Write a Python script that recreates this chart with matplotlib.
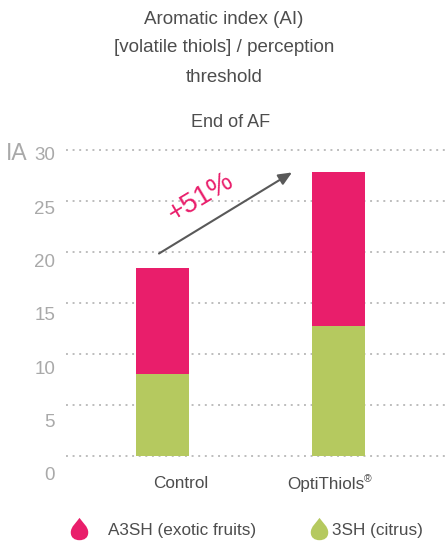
import matplotlib
matplotlib.use("Agg")
import matplotlib.pyplot as plt
from matplotlib.path import Path

plt.rcParams["font.family"] = ["Liberation Sans", "DejaVu Sans"]

categories = ["Control", "OptiThiols"]
citrus = [8.05, 12.75]
exotic = [10.35, 15.05]
yticks = [0, 5, 10, 15, 20, 25, 30]
title_lines = ["Aromatic index (AI)", "[volatile thiols] / perception", "threshold"]

PINK = "#e91e6b"
GREEN = "#b5c95f"
GREY = "#a9a9a9"
DARK = "#4d4d4d"

W, H = 447, 542
fig = plt.figure(figsize=(W / 100, H / 100), dpi=100)

# axes box in pixels: y=30 at 150, y=0 at 456
ax = fig.add_axes([66 / W, 1 - 456 / H, (W - 66) / W, 306 / H])
ax.set_xlim(66, W)
ax.set_ylim(0, 30)
ax.axis("off")

for v in yticks:
    ax.axhline(v, color="#bdbdbd", lw=1.4, ls=(0, (1, 2.4)), zorder=1, clip_on=False)

xpos = [162.5, 338.5]
ax.bar(xpos, citrus, width=53, color=GREEN, zorder=2)
ax.bar(xpos, exotic, width=53, bottom=citrus, color=PINK, zorder=2)


def px(x, y):
    return x / W, 1 - y / H


# tick labels drift below the grid, the source image spaces them wider
for v in yticks:
    fig.text(*px(55, 476 - v * 10.67), str(v), ha="right", va="center", fontsize=13.5, color=GREY)
fig.text(*px(28, 154), "IA", ha="right", va="center", fontsize=16.5, color=GREY)

for y, line in zip([19, 48, 77], title_lines):
    fig.text(*px(224, y), line, ha="center", va="center", fontsize=13.5, color=DARK)
fig.text(*px(231, 122), "End of AF", ha="center", va="center", fontsize=13, color=DARK)

fig.text(*px(181, 484), categories[0], ha="center", va="center", fontsize=12.3, color=DARK)
fig.text(*px(326, 484), categories[1], ha="center", va="center", fontsize=12.3, color=DARK)
fig.text(*px(364, 479), "®", ha="left", va="center", fontsize=7.5, color=DARK)

ax.annotate("", xy=(292, 27.8), xytext=(159, 19.85),
            arrowprops=dict(arrowstyle="-|>,head_length=0.8,head_width=0.35", color="#595959", lw=1.5,
                            shrinkA=0, shrinkB=0), zorder=3)
fig.text(*px(201, 197), "+51%", ha="center", va="center", rotation=31, rotation_mode="anchor",
         fontsize=20, color=PINK)

# droplet marker for the legend
drop = Path([(0, 1.3), (0.3, 0.85), (0.9, 0.4), (0.9, -0.2), (0.9, -0.75), (0.5, -1), (0, -1),
             (-0.5, -1), (-0.9, -0.75), (-0.9, -0.2), (-0.9, 0.4), (-0.3, 0.85), (0, 1.3)],
            [Path.MOVETO] + [Path.CURVE4] * 12)
legend_ax = fig.add_axes([0, 0, 1, 1])
legend_ax.set_xlim(0, W)
legend_ax.set_ylim(H, 0)
legend_ax.axis("off")
legend_ax.scatter([78.5], [529.5], marker=drop, s=330, color=PINK, linewidths=0)
legend_ax.scatter([318.5], [529.5], marker=drop, s=330, color=GREEN, linewidths=0)
fig.text(*px(108, 530), "A3SH (exotic fruits)", ha="left", va="center", fontsize=12.3, color=DARK)
fig.text(*px(332, 530), "3SH (citrus)", ha="left", va="center", fontsize=12.3, color=DARK)

fig.savefig("out.png", dpi=100)
